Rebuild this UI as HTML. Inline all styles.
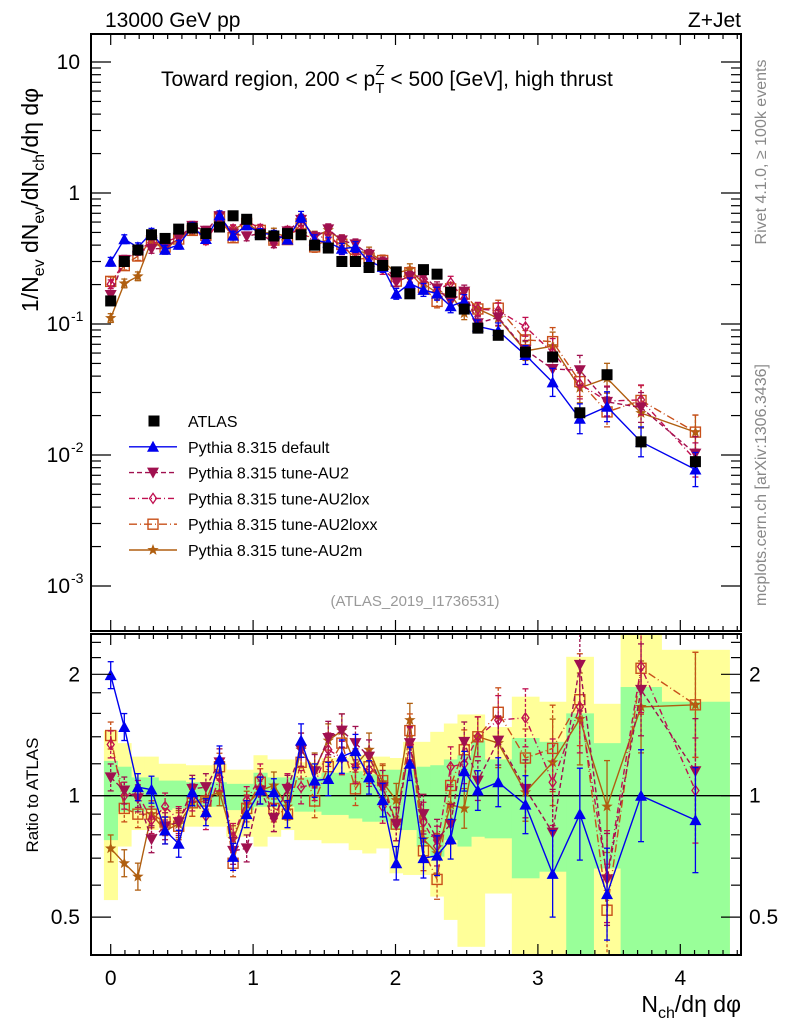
<!DOCTYPE html>
<html><head><meta charset="utf-8"><style>
body{margin:0;background:#fff}
svg text{font-family:"Liberation Sans",sans-serif}
</style></head><body>
<svg id="c" width="786" height="1024" xmlns="http://www.w3.org/2000/svg"></svg>
<script>
// ---- data ----
const binCenters=[0,1,2,3,4,5,6,7,8,9,10,11,12,13,14,15,16,17,18,19,20,21,22,23,24,25,26,27,28.5,30.5,32.5,34.5,36.5,39,43];
const binLo=[-0.5,0.5,1.5,2.5,3.5,4.5,5.5,6.5,7.5,8.5,9.5,10.5,11.5,12.5,13.5,14.5,15.5,16.5,17.5,18.5,19.5,20.5,21.5,22.5,23.5,24.5,25.5,26.5,27.5,29.5,31.5,33.5,35.5,37.5,40.5];
const binHi=[0.5,1.5,2.5,3.5,4.5,5.5,6.5,7.5,8.5,9.5,10.5,11.5,12.5,13.5,14.5,15.5,16.5,17.5,18.5,19.5,20.5,21.5,22.5,23.5,24.5,25.5,26.5,27.5,29.5,31.5,33.5,35.5,37.5,40.5,45.5];
const atlas=[0.15,0.30,0.367,0.48,0.45,0.53,0.54,0.49,0.55,0.67,0.63,0.48,0.47,0.49,0.48,0.40,0.38,0.30,0.30,0.27,0.28,0.25,0.17,0.26,0.24,0.175,0.13,0.093,0.082,0.061,0.056,0.021,0.041,0.0126,0.0089];
const rDefault=[1.99,1.48,1.05,1.035,0.82,0.76,1.02,0.91,1.23,0.705,0.9,1.03,1.02,0.9,1.37,1.09,1.10,1.25,1.29,1.11,0.975,0.68,1.20,0.70,0.71,0.78,1.15,1.03,1.08,0.95,0.64,0.90,0.57,1.0,0.87];
const rAU2=[1.11,1.03,0.985,0.78,0.84,0.86,1.04,1.05,1.21,0.73,0.74,1.03,0.88,1.04,1.30,1.15,1.39,1.45,1.35,1.25,1.05,0.85,1.35,0.90,0.78,0.85,1.36,1.09,1.37,1.04,0.81,2.11,0.62,1.83,1.15];
const rAU2lox=[1.34,1.0,1.01,0.87,0.94,0.87,0.99,0.89,1.11,0.79,0.975,1.11,0.88,1.05,1.05,1.07,1.30,1.24,1.18,1.16,0.94,0.85,1.34,0.86,0.75,1.18,1.20,1.40,1.54,1.56,1.08,1.66,0.63,2.09,1.03];
const rAU2loxx=[1.41,0.93,0.90,0.90,0.86,0.84,0.96,0.97,1.18,0.68,0.93,1.08,0.93,0.90,1.21,0.97,1.18,1.35,1.04,1.18,1.09,0.85,1.45,0.73,0.62,1.06,1.30,1.40,1.61,1.24,1.31,1.73,0.52,2.07,1.68];
const rAU2m=[0.74,0.68,0.63,0.90,0.82,0.85,0.96,0.99,1.02,0.78,0.95,1.03,1.06,0.94,1.30,1.16,1.37,1.45,1.19,1.30,1.08,0.975,1.54,0.78,0.72,0.95,0.93,1.40,1.35,1.02,1.21,1.55,0.94,1.66,1.68];
const mcErr=[0.08,0.08,0.08,0.08,0.08,0.08,0.08,0.08,0.08,0.08,0.08,0.08,0.08,0.08,0.1,0.1,0.1,0.1,0.1,0.1,0.1,0.1,0.1,0.12,0.12,0.12,0.12,0.12,0.15,0.18,0.28,0.3,0.3,0.3,0.35];
const atlasErr=[0.03,0.03,0.03,0.03,0.03,0.03,0.03,0.03,0.03,0.03,0.03,0.03,0.03,0.03,0.03,0.03,0.03,0.03,0.03,0.03,0.03,0.03,0.04,0.04,0.04,0.05,0.05,0.05,0.06,0.07,0.08,0.1,0.1,0.12,0.12];
const greenHi=[1.22,1.18,1.11,1.11,1.09,1.09,1.08,1.08,1.08,1.07,1.07,1.14,1.11,1.11,1.11,1.11,1.14,1.14,1.15,1.13,1.16,1.16,1.16,1.18,1.19,1.23,1.26,1.37,1.23,1.39,1.36,1.60,1.35,1.86,1.71];
const greenLo=[0.776,0.913,0.913,0.921,0.921,0.930,0.930,0.939,0.939,0.921,0.921,0.939,0.939,0.939,0.913,0.913,0.896,0.896,0.878,0.862,0.862,0.822,0.822,0.748,0.706,0.776,0.748,0.791,0.784,0.624,0.648,0.3,0.660,0.3,0.3];
const yellowHi=[1.45,1.35,1.25,1.25,1.20,1.20,1.19,1.19,1.20,1.16,1.16,1.26,1.23,1.23,1.21,1.21,1.24,1.24,1.26,1.25,1.25,1.24,1.36,1.36,1.44,1.51,1.59,1.59,1.48,1.76,1.71,2.21,1.69,3,2.3];
const yellowLo=[0.551,0.748,0.822,0.822,0.838,0.838,0.838,0.838,0.838,0.791,0.791,0.748,0.791,0.822,0.776,0.776,0.762,0.762,0.733,0.719,0.740,0.642,0.636,0.636,0.562,0.492,0.422,0.422,0.572,0.3,0.3,0.3,0.3,0.3,0.3];
const yTickLabels=["10","1","10","10","10"];
const legendLabels=["ATLAS","Pythia 8.315 default","Pythia 8.315 tune-AU2","Pythia 8.315 tune-AU2lox","Pythia 8.315 tune-AU2loxx","Pythia 8.315 tune-AU2m"];

// ---- geometry ----
const NS="http://www.w3.org/2000/svg", svg=document.getElementById('c');
const L=91,R=741,T1=34,B1=631,T2=634,B2=955;
const X=v=>110.7+142.4*v;
const Xn=n=>X(n/10.472);
const Ym=v=>193-131*Math.log10(v);
const Yr=r=>795.7-121.4*Math.log2(r);
function el(tag,a,p){const e=document.createElementNS(NS,tag);for(const k in a)e.setAttribute(k,a[k]);(p||svg).appendChild(e);return e;}
function txt(s,x,y,a,p){const e=el('text',Object.assign({x:x,y:y,'font-size':20,fill:'#000'},a||{}),p);e.textContent=s;return e;}
el('defs',{}).innerHTML='<clipPath id="cm"><rect x="91" y="34" width="650" height="597"/></clipPath><clipPath id="cr"><rect x="91" y="634" width="650" height="321"/></clipPath>';

// bands
const bands=el('g',{'clip-path':'url(#cr)'});


binCenters.forEach((c,i)=>{
  const y=el('rect',{x:Xn(binLo[i]),y:Yr(yellowHi[i]),width:Xn(binHi[i])-Xn(binLo[i])+0.5,height:Yr(yellowLo[i])-Yr(yellowHi[i]),fill:'#ffff99'},bands);
  
  
});
binCenters.forEach((c,i)=>{
  const g=el('rect',{x:Xn(binLo[i]),y:Yr(greenHi[i]),width:Xn(binHi[i])-Xn(binLo[i])+0.5,height:Yr(greenLo[i])-Yr(greenHi[i]),fill:'#99ff99'},bands);
  
  
});
el('line',{x1:L,x2:R,y1:Yr(1),y2:Yr(1),stroke:'#000','stroke-width':1.3});

// markers
function marker(type,x,y,col,g){
  if(type==='sq')return el('rect',{x:x-5.5,y:y-5.5,width:11,height:11,fill:'#000'},g);
  if(type==='up')return el('path',{d:`M${x},${y-6}L${x+6},${y+5}L${x-6},${y+5}Z`,fill:col},g);
  if(type==='dn')return el('path',{d:`M${x},${y+6}L${x+6},${y-5}L${x-6},${y-5}Z`,fill:col},g);
  if(type==='di')return el('path',{d:`M${x},${y-5}L${x+3.5},${y}L${x},${y+5}L${x-3.5},${y}Z`,fill:'none',stroke:col,'stroke-width':1.3},g);
  if(type==='os')return el('rect',{x:x-5,y:y-5,width:10,height:10,fill:'none',stroke:col,'stroke-width':1.4},g);
  if(type==='st'){let d='';for(let k=0;k<10;k++){const a=-Math.PI/2+k*Math.PI/5,r=k%2?2.5:6;d+=(k?'L':'M')+(x+r*Math.cos(a)).toFixed(1)+','+(y+r*Math.sin(a)).toFixed(1);}return el('path',{d:d+'Z',fill:col},g);}
}
const series=[
 {name:'default',r:rDefault,col:'#0000ee',dash:'',m:'up'},
 {name:'au2',r:rAU2,col:'#a0104f',dash:'5,3',m:'dn'},
 {name:'au2lox',r:rAU2lox,col:'#c01050',dash:'6,3,1,3',m:'di'},
 {name:'au2loxx',r:rAU2loxx,col:'#c8501a',dash:'8,3,1,3',m:'os'},
 {name:'au2m',r:rAU2m,col:'#b05f10',dash:'',m:'st'}];

function drawSeries(s,ratio){
  const g=el('g',{'clip-path':ratio?'url(#cr)':'url(#cm)'});
  
  
  const vals=binCenters.map((c,i)=>ratio?s.r[i]:atlas[i]*s.r[i]);
  const Yf=ratio?Yr:Ym;
  const pts=vals.map((v,i)=>[Xn(binCenters[i]),Yf(v)]);
  el('polyline',{points:pts.map(p=>p.join(',')).join(' '),fill:'none',stroke:s.col,'stroke-width':1.4,'stroke-dasharray':s.dash},g);
  vals.forEach((v,i)=>{
    const x=Xn(binCenters[i]),y1=Yf(v*(1+mcErr[i])),y2=Yf(v/(1+mcErr[i]));
    el('line',{x1:x,x2:x,y1:y1,y2:y2,stroke:s.col,'stroke-width':1.3,'stroke-dasharray':s.dash?'3,2':''},g);
    el('line',{x1:x-3,x2:x+3,y1:y1,y2:y1,stroke:s.col,'stroke-width':1.3},g);
    el('line',{x1:x-3,x2:x+3,y1:y2,y2:y2,stroke:s.col,'stroke-width':1.3},g);
    const mk=marker(s.m,x,Yf(v),s.col,g);
    
    
  });
}
// main: atlas
const ga=el('g',{'clip-path':'url(#cm)'});


series.slice().reverse().forEach(s=>drawSeries(s,false));
atlas.forEach((v,i)=>{
  const x=Xn(binCenters[i]);
  el('line',{x1:x,x2:x,y1:Ym(v*(1+atlasErr[i])),y2:Ym(v/(1+atlasErr[i])),stroke:'#000','stroke-width':1.2},ga);
  const m=marker('sq',x,Ym(v),'#000',ga);
  
  
});
svg.appendChild(ga);
series.slice().reverse().forEach(s=>drawSeries(s,true));

// frames
el('rect',{x:L,y:T1,width:R-L,height:B1-T1,fill:'none',stroke:'#000','stroke-width':2});
el('rect',{x:L,y:T2,width:R-L,height:B2-T2,fill:'none',stroke:'#000','stroke-width':2});

// x ticks
for(let k=0;k<=44;k++){
  const v=k/10,x=X(v);if(x>R)break;
  const len=k%10===0?11:5;
  [[B1,-1],[T2,1],[B2,-1],[T1,1]].forEach(([y,d])=>el('line',{x1:x,x2:x,y1:y,y2:y+d*len,stroke:'#000','stroke-width':1.2}));
  if(k%10===0){const t=txt(String(k/10),x,985,{'text-anchor':'middle','font-size':21});}
}
// main y ticks
for(let e=-3;e<=1;e++){
  for(let m=1;m<10;m++){
    const v=m*Math.pow(10,e);const y=Ym(v);if(y<T1||y>B1)continue;
    const len=m===1?20:10;
    el('line',{x1:L,x2:L+len,y1:y,y2:y,stroke:'#000','stroke-width':1.2});
    el('line',{x1:R,x2:R-len,y1:y,y2:y,stroke:'#000','stroke-width':1.2});
  }
  const y=Ym(Math.pow(10,e));
  const lab=yTickLabels[1-e];
  const t=txt(lab,e<0?70:80,y+7,{'text-anchor':'end','font-size':21});
  
  if(e<0){const s=txt(String(e),71,y-3,{'font-size':14});}
}
// ratio ticks
[0.5,0.6,0.7,0.8,0.9,1,1.2,1.4,1.6,1.8,2,2.2,2.4].forEach(r=>{
  const y=Yr(r);const major=(r===0.5||r===1||r===2);const len=major?20:10;
  el('line',{x1:L,x2:L+len,y1:y,y2:y,stroke:'#000','stroke-width':1.2});
  el('line',{x1:R,x2:R-len,y1:y,y2:y,stroke:'#000','stroke-width':1.2});
  if(major){
    const a=txt(String(r),80,y+7,{'text-anchor':'end','font-size':21});
    const b=txt(String(r),749,y+7,{'font-size':21});
  }
});

// texts
let t;
t=txt('13000 GeV pp',105,27,{'font-size':21});
t=txt('Z+Jet',741,27,{'font-size':21,'text-anchor':'end'});
t=el('text',{x:161,y:86,'font-size':21});t.innerHTML='Toward region, 200 &lt; p<tspan dy="7" font-size="15">T</tspan><tspan dx="-9" dy="-18" font-size="15">Z</tspan><tspan dy="11"> &lt; 500 [GeV], high thrust</tspan>';

t=txt('(ATLAS_2019_I1736531)',415,606,{'font-size':15,fill:'#999','text-anchor':'middle'});
t=el('text',{x:0,y:0,'font-size':23,transform:'translate(38,200) rotate(-90)','text-anchor':'middle'});
t.innerHTML='1/N<tspan dy="6" font-size="16">ev</tspan><tspan dy="-6"> dN</tspan><tspan dy="6" font-size="16">ev</tspan><tspan dy="-6">/dN</tspan><tspan dy="6" font-size="16">ch</tspan><tspan dy="-6">/dη dφ</tspan>';

t=txt('Ratio to ATLAS',0,0,{'font-size':17,transform:'translate(38,795) rotate(-90)','text-anchor':'middle'});
t=el('text',{x:741,y:1012,'font-size':23,'text-anchor':'end'});t.innerHTML='N<tspan dy="6" font-size="16">ch</tspan><tspan dy="-6">/dη dφ</tspan>';

t=txt('Rivet 4.1.0, ≥ 100k events',0,0,{'font-size':16,fill:'#888',transform:'translate(766,152) rotate(-90)','text-anchor':'middle'});
t=txt('mcplots.cern.ch [arXiv:1306.3436]',0,0,{'font-size':16,fill:'#888',transform:'translate(766,485) rotate(-90)','text-anchor':'middle'});

// legend
const lg=el('g',{});


legendLabels.forEach((s,i)=>{
  const y=421+i*25.8;
  const e=el('g',{},lg);
  
  
  if(i===0)marker('sq',154,y,'#000',e);
  else{const S=series[i-1];el('line',{x1:129,x2:177,y1:y,y2:y,stroke:S.col,'stroke-width':1.4,'stroke-dasharray':S.dash},e);marker(S.m,153,y,S.col,e);}
  txt(s,188,y+6,{'font-size':16},e);
});
</script>
</body></html>
